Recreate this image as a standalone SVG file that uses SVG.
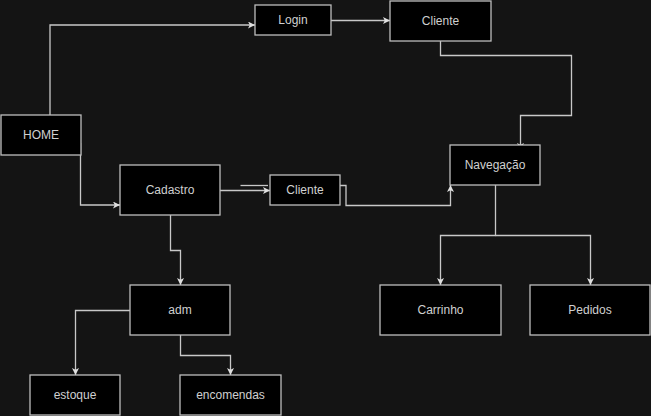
<svg xmlns="http://www.w3.org/2000/svg" width="651" height="416" viewBox="0 0 651 416">
<defs>
<marker id="arr" viewBox="0 0 10 10" refX="10" refY="5" markerWidth="7" markerHeight="7" markerUnits="userSpaceOnUse" orient="auto">
<path d="M0,0 L10,5 L0,10 L2.5,5 Z" fill="#e0e0e0"/>
</marker>
<style>
.n rect{fill:#000;stroke:#bdbdbd;stroke-width:1.3}
.n text{fill:#d0d0d0;font-family:"Liberation Sans",Arial,sans-serif;font-size:12px;text-anchor:middle;dominant-baseline:central}
.c path{fill:none;stroke:#c8c8c8;stroke-width:1.3}
</style>
</defs>
<rect width="651" height="416" fill="#141414"/>
<g class="c">
<path d="M50,115 V25 H255" marker-end="url(#arr)"/>
<path d="M331,20.5 H390" marker-end="url(#arr)"/>
<path d="M80.5,143 V205 H120" marker-end="url(#arr)"/>
<path d="M220,190.5 H270" marker-end="url(#arr)"/>
<path d="M240.5,185.5 H268"/>
<path d="M340,185.5 H346 V205.5 H450.5 V185" marker-end="url(#arr)"/>
<path d="M440.5,41 V55.5 H571.5 V115.5 H520.5 V150" marker-end="url(#arr)"/>
<path d="M495.5,185 V235.5 H440.5 V285" marker-end="url(#arr)"/>
<path d="M495.5,235.5 H590.5 V285" marker-end="url(#arr)"/>
<path d="M170.5,215 V250.5 H180.5 V285" marker-end="url(#arr)"/>
<path d="M130,310.5 H75.5 V375" marker-end="url(#arr)"/>
<path d="M180.5,335 V355.5 H230.5 V375" marker-end="url(#arr)"/>
</g>
<g id="home" class="n"><rect x="1" y="115" width="80" height="40"/><text x="41" y="135">HOME</text></g>
<g id="login" class="n"><rect x="255" y="5" width="76" height="30"/><text x="293" y="20">Login</text></g>
<g id="cliente1" class="n"><rect x="390" y="1" width="101" height="40"/><text x="440.5" y="21">Cliente</text></g>
<g id="cadastro" class="n"><rect x="120" y="165" width="100" height="50"/><text x="170" y="190">Cadastro</text></g>
<g id="cliente2" class="n"><rect x="270" y="175" width="70" height="30"/><text x="305" y="190">Cliente</text></g>
<g id="navegacao" class="n"><rect x="450" y="145" width="90" height="40"/><text x="495" y="165">Navegação</text></g>
<g id="carrinho" class="n"><rect x="380" y="285" width="121" height="50"/><text x="440.5" y="310">Carrinho</text></g>
<g id="pedidos" class="n"><rect x="530" y="285" width="120" height="50"/><text x="590" y="310">Pedidos</text></g>
<g id="adm" class="n"><rect x="130" y="285" width="100" height="50"/><text x="180" y="310">adm</text></g>
<g id="estoque" class="n"><rect x="30" y="375" width="90" height="40"/><text x="75" y="395">estoque</text></g>
<g id="encomendas" class="n"><rect x="180" y="375" width="101" height="40"/><text x="230.5" y="395">encomendas</text></g>
</svg>
